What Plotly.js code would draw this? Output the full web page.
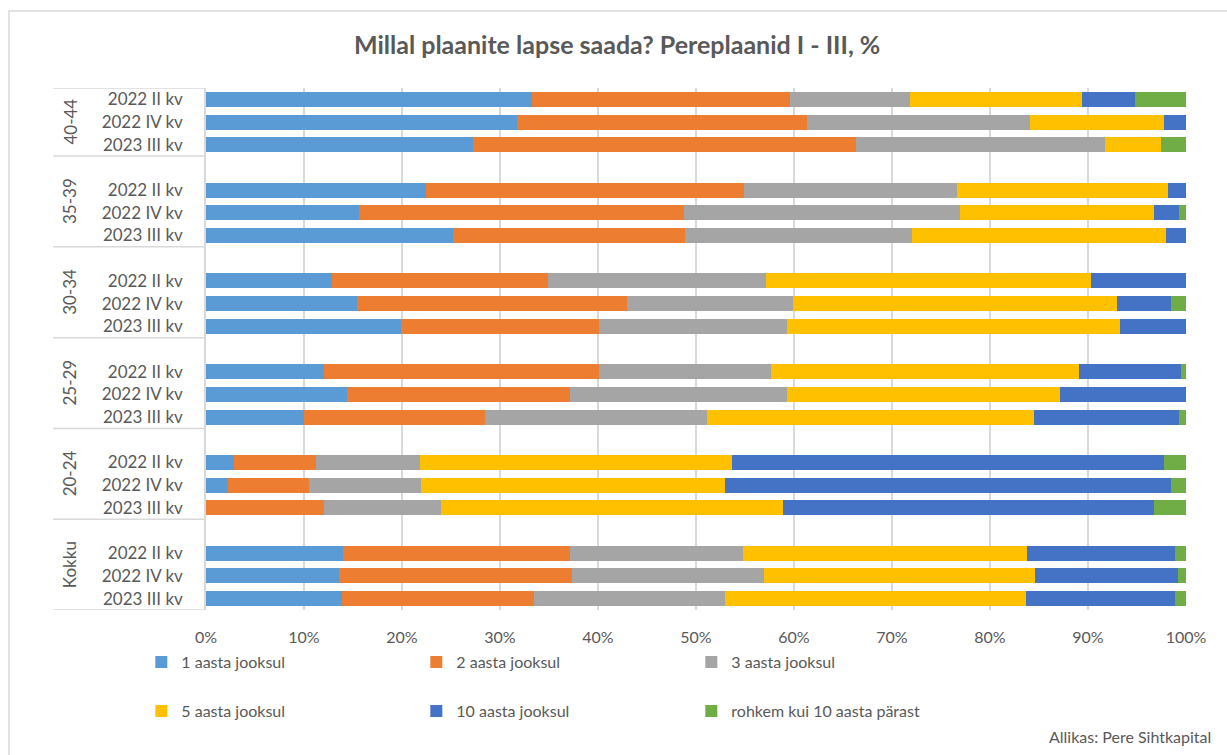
<!DOCTYPE html>
<html>
<head>
<meta charset="utf-8">
<script src="https://cdn.plot.ly/plotly-3.0.1.min.js"></script>
<style>
  body { margin: 0; background: #fff; }
  #plot { width: 1227px; height: 755px; }
</style>
</head>
<body>
<div id="plot"></div>
<script>
// vanusegrupid ja perioodid (ülevalt alla)
const groups = ["40-44", "35-39", "30-34", "25-29", "20-24", "Kokku"];
const periods = ["2022 II kv", "2022 IV kv", "2023 III kv"];

const seriesNames = ["1 aasta jooksul", "2 aasta jooksul", "3 aasta jooksul",
	"5 aasta jooksul", "10 aasta jooksul", "rohkem kui 10 aasta pärast"];
const colors = ["#5B9BD5", "#ED7D31", "#A5A5A5", "#FFC000", "#4472C4", "#70AD47"];

// väärtused %, järjekord: grupp x periood
const y1 = [33.3, 31.7, 27.2, 22.4, 15.6, 25.2, 12.9, 15.4, 19.9, 12.0, 14.4, 10.0, 2.9, 2.2, 0, 14.0, 13.6, 13.9];
const y2 = [26.3, 29.6, 39.1, 32.5, 33.2, 23.7, 22.0, 27.6, 20.2, 28.1, 22.7, 18.5, 8.3, 8.3, 12.0, 23.1, 23.7, 19.6];
const y3 = [12.2, 22.8, 25.4, 21.7, 28.1, 23.1, 22.2, 16.9, 19.2, 17.6, 22.2, 22.6, 10.6, 11.4, 12.0, 17.7, 19.6, 19.5];
const y5 = [17.6, 13.7, 5.7, 21.6, 19.8, 26.0, 33.2, 33.1, 34.0, 31.4, 27.8, 33.4, 31.9, 31.1, 34.9, 29.0, 27.7, 30.7];
const y10 = [5.4, 2.2, 0, 1.8, 2.6, 2.0, 9.7, 5.5, 6.7, 10.4, 12.9, 14.8, 44.1, 45.5, 37.8, 15.1, 14.6, 15.2];
const y10plus = [5.2, 0, 2.6, 0, 0.7, 0, 0, 1.5, 0, 0.5, 0, 0.7, 2.2, 1.5, 3.3, 1.1, 0.8, 1.1];
const allSeries = [y1, y2, y3, y5, y10, y10plus];

// rea positsioon: iga grupi vahel üks tühi rida
const rowPos = [];
const rowText = [];
groups.forEach((g, gi) => {
	periods.forEach((p, pi) => {
		rowPos.push(gi * 4 + pi);
		rowText.push(p);
	});
});

const textColor = "#595959";
const gridColor = "#d9d9d9";
const fontFam = "Lato, 'Open Sans', sans-serif";

const data = allSeries.map((vals, k) => ({
	type: "bar",
	orientation: "h",
	name: seriesNames[k],
	x: vals,
	y: rowPos,
	marker: { color: colors[k], line: { width: 0 } },
	legend: k < 3 ? "legend" : "legend2",
	hovertemplate: "%{x}%<extra>" + seriesNames[k] + "</extra>"
}));

// jaotusjooned vasakul
const shapes = [];
const lineYs = [-0.5];
for (let gi = 1; gi < groups.length; gi++) lineYs.push(gi * 4 - 1.5);
lineYs.push(groups.length * 4 - 1.5);
lineYs.forEach(yv => {
	shapes.push({
		type: "line", xref: "paper", yref: "y",
		x0: -0.156, x1: 0, y0: yv, y1: yv,
		line: { color: gridColor, width: 1.5 }
	});
});
// diagrammi raam
shapes.push({
	type: "rect", xref: "paper", yref: "paper",
	x0: -0.201, x1: 1.2, y0: -0.4, y1: 1.1475,
	line: { color: gridColor, width: 1.5 }, layer: "below"
});

const annotations = groups.map((g, gi) => ({
	xref: "paper", yref: "y",
	x: -0.152, y: gi === 0 ? 1 : gi * 4 + 0.5,
	text: g, textangle: -90, showarrow: false,
	font: { family: fontFam, size: 17, color: textColor }
}));
annotations.push({
	xref: "paper", yref: "paper",
	x: 1.028, y: -0.243, xanchor: "right", yanchor: "middle",
	text: "Allikas: Pere Sihtkapital", showarrow: false,
	font: { family: fontFam, size: 16, color: textColor }
});

const layout = {
	width: 1227, height: 755,
	margin: { l: 206, r: 41, t: 88, b: 145 },
	paper_bgcolor: "#fff", plot_bgcolor: "#fff",
	font: { family: fontFam, size: 15, color: textColor },
	title: {
		text: "<b>Millal plaanite lapse saada? Pereplaanid I - III, %</b>",
		font: { family: fontFam, size: 25, color: textColor },
		x: 0.503, xanchor: "center", y: 0.94, yanchor: "middle"
	},
	barmode: "stack",
	bargap: 0.34,
	xaxis: {
		range: [0, 100], dtick: 10, ticksuffix: "%",
		showgrid: true, gridcolor: gridColor, gridwidth: 1.5,
		zeroline: false, showline: false,
		ticklabelstandoff: 16,
		tickfont: { family: fontFam, size: 16, color: textColor }
	},
	yaxis: {
		range: [22.5, -0.5],
		tickvals: rowPos, ticktext: rowText,
		showgrid: false, zeroline: false,
		showline: true, linecolor: gridColor, linewidth: 1.5,
		ticklabelstandoff: 18,
		tickfont: { family: fontFam, size: 17, color: textColor }
	},
	legend: {
		orientation: "h", x: -0.066, y: -0.0996, xanchor: "left", yanchor: "middle",
		entrywidth: 230, traceorder: "normal",
		font: { family: fontFam, size: 16, color: textColor }
	},
	legend2: {
		orientation: "h", x: -0.066, y: -0.1935, xanchor: "left", yanchor: "middle",
		entrywidth: 230, traceorder: "normal",
		font: { family: fontFam, size: 16, color: textColor }
	},
	shapes: shapes,
	annotations: annotations,
	showlegend: true
};

Plotly.newPlot("plot", data, layout, { displayModeBar: false });
</script>
</body>
</html>
